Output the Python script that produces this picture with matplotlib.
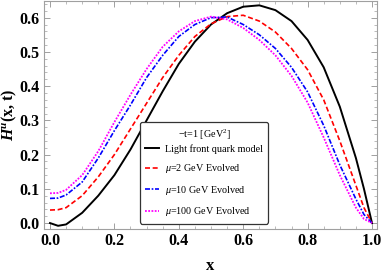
import matplotlib
matplotlib.use("Agg")
import matplotlib.pyplot as plt
from matplotlib.ticker import MultipleLocator

plt.rcParams['font.family'] = ['Liberation Serif', 'DejaVu Serif']
plt.rcParams['mathtext.fontset'] = 'custom'
plt.rcParams['mathtext.rm'] = 'Liberation Serif'
plt.rcParams['mathtext.it'] = 'Liberation Serif:italic'
plt.rcParams['mathtext.bf'] = 'Liberation Serif:bold'
plt.rcParams['mathtext.bfit'] = 'Liberation Serif:bold:italic'

# values
x = [0.0, 0.025, 0.05, 0.1, 0.15, 0.2, 0.25, 0.3, 0.35, 0.4, 0.45, 0.5,
     0.55, 0.6, 0.65, 0.7, 0.75, 0.8, 0.85, 0.9, 0.95, 0.975, 1.0]
lfqm = [0.0, -0.008, -0.004, 0.03, 0.08, 0.14, 0.215, 0.3, 0.385, 0.465,
        0.53, 0.58, 0.613, 0.632, 0.636, 0.622, 0.59, 0.535, 0.455, 0.34,
        0.19, 0.1, 0.0]
mu2 = [0.038, 0.039, 0.045, 0.08, 0.135, 0.2, 0.275, 0.35, 0.425, 0.49,
       0.545, 0.582, 0.603, 0.607, 0.59, 0.558, 0.51, 0.448, 0.36, 0.24,
       0.11, 0.045, 0.0]
mu10 = [0.072, 0.073, 0.082, 0.12, 0.19, 0.27, 0.345, 0.425, 0.49, 0.545,
        0.58, 0.6, 0.602, 0.58, 0.55, 0.51, 0.455, 0.383, 0.285, 0.17,
        0.07, 0.025, 0.0]
mu100 = [0.087, 0.088, 0.097, 0.14, 0.21, 0.295, 0.375, 0.45, 0.515, 0.56,
         0.59, 0.603, 0.595, 0.57, 0.535, 0.49, 0.43, 0.352, 0.25, 0.14,
         0.045, 0.012, 0.0]

fig = plt.figure(figsize=(3.82, 2.73), dpi=100)
ax = fig.add_axes([0.1152, 0.161, 0.8717, 0.837])

ax.plot(x, lfqm, color='black', lw=1.4, label='Light front quark model')
ax.plot(x, mu2, color='red', lw=1.2, ls=(0, (3, 1.6)), label=r'$\mu$=2 GeV Evolved')
ax.plot(x, mu10, color='blue', lw=1.2, ls=(0, (3, 1, 1, 1)), label=r'$\mu$=10 GeV Evolved')
ax.plot(x, mu100, color='magenta', lw=1.3, ls=(0, (1, 0.8)), label=r'$\mu$=100 GeV Evolved')

ax.set_xlim(-0.0186, 1.0155)
ax.set_ylim(-0.0175, 0.650)
ax.xaxis.set_major_locator(MultipleLocator(0.2))
ax.xaxis.set_minor_locator(MultipleLocator(0.05))
ax.yaxis.set_major_locator(MultipleLocator(0.1))
ax.yaxis.set_minor_locator(MultipleLocator(0.02))
ax.xaxis.set_major_formatter(lambda v, p: f"{v:.1f}")
ax.yaxis.set_major_formatter(lambda v, p: f"{v:.1f}")

for s in ax.spines.values():
    s.set_color('#a0a0a0')
    s.set_linewidth(0.8)
ax.tick_params(which='both', direction='in', top=True, right=True, color='#a0a0a0')
ax.tick_params(which='major', length=4, width=0.7, labelsize=11.5, pad=3)
ax.tick_params(which='minor', length=2, width=0.5)
for lab in ax.get_xticklabels() + ax.get_yticklabels():
    lab.set_fontweight('bold')

ax.set_xlabel('x', fontsize=12, fontweight='bold', labelpad=6)
ax.set_ylabel(r'$\mathbfit{H}^{\mathbfit{u}}$(x, t)', fontsize=11.5, fontweight='bold', labelpad=0.5)

leg = ax.legend(loc='upper left', bbox_to_anchor=(0.288, 0.467), fontsize=7.3,
                title=r'$-$t=1 [GeV$^2$]', title_fontsize=7.3, handlelength=1.4,
                handletextpad=0.6, labelspacing=0.85, borderpad=0.5, borderaxespad=0,
                fancybox=True, framealpha=1, edgecolor='#333333')
leg.get_frame().set_linewidth(0.9)
# pull the title closer to the entries, as in the reference
leg._legend_box.sep = 1.5

fig.savefig('out.png', dpi=100)
